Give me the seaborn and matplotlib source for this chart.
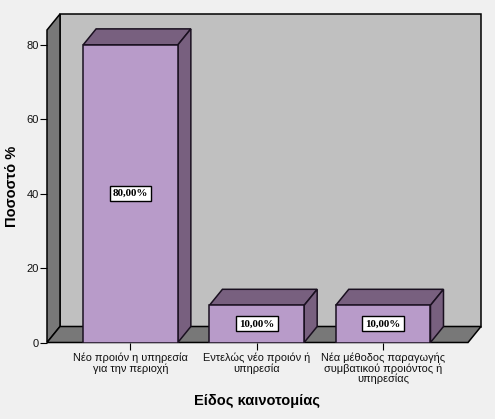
import matplotlib
matplotlib.use("Agg")
import matplotlib.pyplot as plt
import pandas as pd
import seaborn as sns
from matplotlib.patches import Polygon

categories = [
    "Νέο προιόν η υπηρεσία\nγια την περιοχή",
    "Εντελώς νέο προιόν ή\nυπηρεσία",
    "Νέα μέθοδος παραγωγής\nσυμβατικού προιόντος ή\nυπηρεσίας",
]
percent = [80.0, 10.0, 10.0]
y_ticks = [0, 20, 40, 60, 80]

BG = "#F0F0F0"
WALL = "#C0C0C0"
SIDE_WALL = "#787878"
BAR = "#B89BC9"
BAR_DARK = "#78607F"
EDGE = "#1A1020"

# depth of the fake 3d box, in pixels
DX, DY = 13, 16

sns.set_theme(style="white")
plt.rcParams["font.family"] = ["Liberation Sans", "DejaVu Sans"]

fig = plt.figure(figsize=(4.95, 4.19), dpi=100, facecolor=BG)
ax = fig.add_axes([47 / 495, 76.5 / 419, 421 / 495, 312.5 / 419])
ax.patch.set_alpha(0)

df = pd.DataFrame({"kind": categories, "pct": percent})
sns.barplot(data=df, x="kind", y="pct", color=BAR, saturation=1, width=0.75,
            edgecolor=EDGE, linewidth=1.1, ax=ax, zorder=5)

ax.set_xlim(-0.661, 2.672)
ax.set_ylim(0, 84)
sns.despine(ax=ax, left=True, bottom=True, top=True, right=True)
fig.canvas.draw()


def to_px(x, y):
    return ax.transData.transform((x, y))


def face(points, color, zorder, lw=1.1, edge=EDGE):
    fig.add_artist(Polygon(points, closed=True, facecolor=color, edgecolor=edge,
                           linewidth=lw, transform=None, zorder=zorder))


x0, x1 = ax.get_xlim()
y0, y1 = ax.get_ylim()
bl, br, tl = to_px(x0, y0), to_px(x1, y0), to_px(x0, y1)
off = (DX, DY)

# back wall, left wall, floor
ax.set_zorder(3)
face([bl + off, br + off, [br[0] + DX, tl[1] + DY], tl + off], WALL, 1, edge="black")
face([bl, bl + off, tl + off, tl], SIDE_WALL, 2, edge="black")
face([bl, br, br + off, bl + off], SIDE_WALL, 2, edge="black")

# top and side faces of the bars
for bar in ax.patches:
    b = to_px(bar.get_x() + bar.get_width(), 0)
    c = to_px(bar.get_x() + bar.get_width(), bar.get_height())
    d = to_px(bar.get_x(), bar.get_height())
    face([d, c, c + off, d + off], BAR_DARK, 2.5)
    face([b, b + off, c + off, c], BAR_DARK, 2.5)

ax.bar_label(ax.containers[0], labels=[f"{v:.2f}%".replace(".", ",") for v in percent],
             label_type="center", fontsize=7.9, fontweight="bold", family="Liberation Serif",
             color="black", zorder=8,
             bbox=dict(boxstyle="square,pad=0.28", facecolor="white", edgecolor="black", linewidth=1))

ax.set_yticks(y_ticks)
ax.tick_params(axis="y", length=5, width=0.8, color="black", labelsize=8, pad=1, left=True, labelcolor="#111111")
ax.tick_params(axis="x", length=5, width=0.8, color="black", labelsize=7.9, pad=2.5, bottom=True, labelcolor="#111111")
for lab in ax.get_xticklabels():
    lab.set_linespacing(1.0)

ax.set_xlabel("")
ax.set_ylabel("")
fig.text(257 / 495, 1 - 401 / 419, "Είδος καινοτομίας", ha="center", va="center",
         fontsize=10.5, fontweight="bold", color="black")
fig.text(12 / 495, 1 - 186 / 419, "Ποσοστό %", rotation=90, ha="center", va="center",
         fontsize=10.5, fontweight="bold", color="black")

fig.savefig("out.png", dpi=100, facecolor=BG)
